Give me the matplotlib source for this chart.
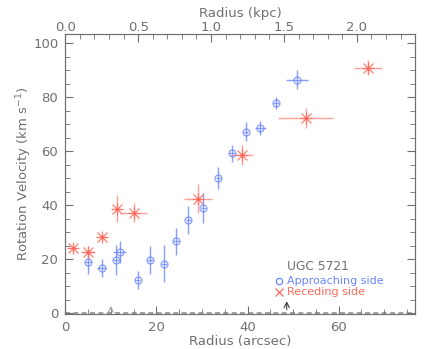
import matplotlib
matplotlib.use('Agg')
import matplotlib.pyplot as plt
from matplotlib.ticker import MultipleLocator, FixedLocator
import numpy as np

# approaching side (blue)
app_r = [5.0, 8.0, 11.1, 11.9, 15.9, 18.6, 21.7, 24.3, 27.0, 30.3, 33.6, 36.6, 39.6, 42.8, 46.3, 50.9]
app_v = [19.1, 16.8, 19.7, 22.6, 12.4, 19.8, 18.3, 26.6, 34.4, 38.9, 50.1, 59.2, 67.2, 68.7, 77.9, 86.6]
app_dr = [0.6, 1.0, 0.6, 1.5, 0.6, 0.6, 0.6, 0.6, 0.6, 0.6, 0.6, 0.6, 0.6, 1.2, 0.6, 2.4]
app_dv = [4.5, 3.4, 5.5, 4.0, 3.4, 5.2, 6.8, 5.0, 5.2, 5.5, 4.2, 3.1, 3.5, 2.7, 2.1, 3.6]

# receding side (red)
rec_r = [1.6, 5.0, 8.1, 11.3, 15.1, 29.2, 38.7, 52.8, 66.5]
rec_v = [24.0, 22.5, 28.1, 38.8, 37.3, 42.5, 58.5, 72.4, 91.0]
rec_dr = [1.0, 1.6, 1.0, 1.0, 2.9, 3.1, 2.6, 6.0, 3.1]
rec_dv = [1.2, 2.5, 1.2, 4.9, 3.4, 5.4, 3.7, 3.6, 2.8]

arcsec_to_kpc = 0.03125
kpc_ticks = [0.0, 0.5, 1.0, 1.5, 2.0]
arrow_small = 10.0
arrow_big = 48.6

blue = '#6a86ff'
red = '#ff6a5c'
gray = '#707070'

plt.rcParams['font.family'] = 'DejaVu Sans'
plt.rcParams['font.size'] = 9.5

fig = plt.figure(figsize=(4.36, 3.49), dpi=100)
ax = fig.add_axes([65.3/436, 1-314/349, (414.7-65.3)/436, (314-34)/349])

ax.axhline(0, color='#909090', ls=(0, (3, 2)), lw=1.2, zorder=1)

ax.errorbar(app_r, app_v, xerr=app_dr, yerr=app_dv, fmt='o', mfc='none', mec=blue,
            ms=5, mew=0.9, ecolor=blue, elinewidth=1.0, alpha=0.8, capsize=0, zorder=3)
ax.errorbar(rec_r, rec_v, xerr=rec_dr, yerr=rec_dv, fmt='x', color=red,
            ms=7, mew=0.9, ecolor='#ff9088', elinewidth=1.0, alpha=0.85, capsize=0, zorder=3)
ax.plot(rec_r, rec_v, '+', color=red, ms=8, mew=0.9, alpha=0.85, zorder=3)
ax.plot(rec_r, rec_v, 's', color=red, ms=2, zorder=4)

# arrows
ax.annotate('', xy=(arrow_small, 3.7), xytext=(arrow_small, 0.3),
            arrowprops=dict(arrowstyle='->', color='#a0a0a0', lw=0.8))
ax.annotate('', xy=(arrow_big, 5.5), xytext=(arrow_big, 0.3),
            arrowprops=dict(arrowstyle='->', color='#404040', lw=0.8))

# legend text
ax.text(48.6, 17.3, 'UGC 5721', color=gray, fontsize=8.8, va='center')
ax.plot([47.0], [11.8], 'o', mfc='none', mec=blue, ms=4.5, mew=0.9)
ax.text(48.6, 11.9, 'Approaching side', color=blue, fontsize=8, va='center')
ax.plot([47.0], [8.0], 'x', color=red, ms=6, mew=0.9)
ax.text(48.6, 7.9, 'Receding side', color=red, fontsize=8, va='center')

ax.set_xlim(0, 76.7)
ax.set_ylim(-0.3, 103.5)
ax.xaxis.set_major_locator(MultipleLocator(20))
ax.xaxis.set_minor_locator(MultipleLocator(5))
ax.yaxis.set_major_locator(MultipleLocator(20))
ax.yaxis.set_minor_locator(MultipleLocator(5))
ax.tick_params(which='both', direction='in', colors=gray, labelcolor=gray, right=True)
ax.tick_params(which='major', length=6, pad=5)
ax.tick_params(which='minor', length=3.5)
for s in ax.spines.values():
    s.set_color(gray)
ax.set_xlabel('Radius (arcsec)', color=gray, labelpad=0.5)
ax.set_ylabel('Rotation Velocity (km s$^{-1}$)', color=gray, labelpad=-1)

# top axis in kpc
top = ax.twiny()
top.set_xlim(0, 76.7*arcsec_to_kpc)
top.xaxis.set_major_locator(FixedLocator(kpc_ticks))
top.xaxis.set_minor_locator(MultipleLocator(0.1))
top.xaxis.set_major_formatter(plt.FormatStrFormatter('%.1f'))
top.tick_params(which='both', direction='in', colors=gray, labelcolor=gray)
top.tick_params(which='major', length=6, pad=0)
top.tick_params(which='minor', length=3.5)
for s in top.spines.values():
    s.set_color(gray)
top.set_xlabel('Radius (kpc)', color=gray, labelpad=3)

fig.savefig('out.png', dpi=100)
